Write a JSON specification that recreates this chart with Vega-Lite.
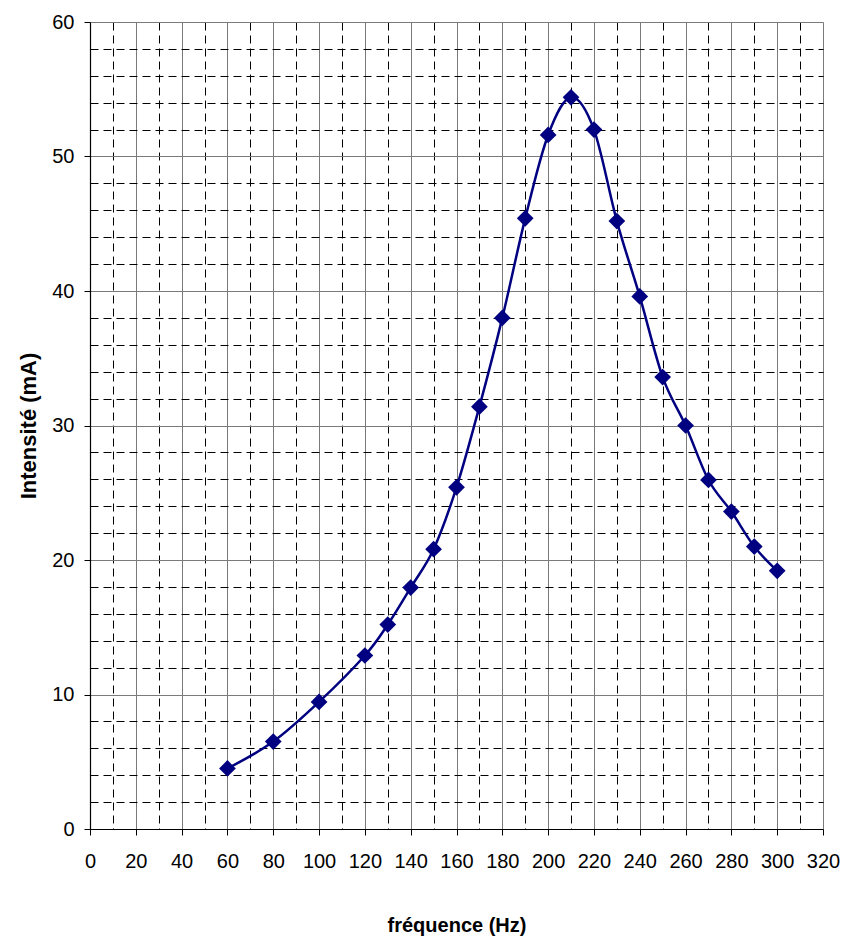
{
  "$schema": "https://vega.github.io/schema/vega-lite/v6.json",
  "width": 733,
  "height": 807,
  "autosize": {"type": "none"},
  "padding": {"left": 90, "top": 22, "right": 35, "bottom": 110},
  "background": "white",
  "config": {
    "view": {"stroke": null},
    "axis": {"labelFont": "Liberation Sans", "titleFont": "Liberation Sans", "labelColor": "#000000", "titleColor": "#000000"}
  },
  "data": {
    "values": [
      {"f": 60, "i": 4.5},
      {"f": 80, "i": 6.5},
      {"f": 100, "i": 9.45},
      {"f": 120, "i": 12.9},
      {"f": 130, "i": 15.2},
      {"f": 140, "i": 17.95},
      {"f": 150, "i": 20.8},
      {"f": 160, "i": 25.4},
      {"f": 170, "i": 31.4},
      {"f": 180, "i": 38.0},
      {"f": 190, "i": 45.4},
      {"f": 200, "i": 51.6},
      {"f": 210, "i": 54.4},
      {"f": 220, "i": 52.0},
      {"f": 230, "i": 45.2},
      {"f": 240, "i": 39.6},
      {"f": 250, "i": 33.6},
      {"f": 260, "i": 30.0},
      {"f": 270, "i": 25.95},
      {"f": 280, "i": 23.6},
      {"f": 290, "i": 21.0},
      {"f": 300, "i": 19.2}
    ]
  },
  "encoding": {
    "x": {
      "field": "f",
      "type": "quantitative",
      "scale": {"domain": [0, 320], "nice": false, "zero": false},
      "axis": {
        "title": "fréquence (Hz)",
        "titleFontSize": 20,
        "titleFontWeight": "bold",
        "titlePadding": 44,
        "values": [0,10,20,30,40,50,60,70,80,90,100,110,120,130,140,150,160,170,180,190,200,210,220,230,240,250,260,270,280,290,300,310,320],
        "labelExpr": "datum.value % 20 === 0 ? datum.label : ''",
        "labelFontSize": 20,
        "labelPadding": 16,
        "labelFlush": false,
        "labelOverlap": false,
        "domainColor": "#000000",
        "domainWidth": 1.2,
        "tickColor": "#000000",
        "tickSize": 6,
        "tickOpacity": {"condition": {"test": "datum.value % 20 === 0", "value": 1}, "value": 0},
        "grid": true,
        "gridColor": {"condition": {"test": "datum.value % 20 === 0", "value": "#7a7a7a"}, "value": "#000000"},
        "gridDash": {"condition": {"test": "datum.value % 20 === 0", "value": []}, "value": [8, 5]},
        "gridWidth": 1,
        "gridOpacity": 1
      }
    },
    "y": {
      "field": "i",
      "type": "quantitative",
      "scale": {"domain": [0, 60], "nice": false},
      "axis": {
        "title": "Intensité (mA)",
        "titleFontSize": 22,
        "titleFontWeight": "bold",
        "titlePadding": 11,
        "values": [0,2,4,6,8,10,12,14,16,18,20,22,24,26,28,30,32,34,36,38,40,42,44,46,48,50,52,54,56,58,60],
        "labelExpr": "datum.value % 10 === 0 ? datum.label : ''",
        "labelFontSize": 20,
        "labelPadding": 10,
        "labelFlush": false,
        "labelOverlap": false,
        "domainColor": "#000000",
        "domainWidth": 1.2,
        "tickColor": "#000000",
        "tickSize": 6,
        "tickOpacity": {"condition": {"test": "datum.value % 10 === 0", "value": 1}, "value": 0},
        "grid": true,
        "gridColor": {"condition": {"test": "datum.value % 10 === 0", "value": "#7a7a7a"}, "value": "#000000"},
        "gridDash": {"condition": {"test": "datum.value % 10 === 0", "value": []}, "value": [8, 5]},
        "gridWidth": 1,
        "gridOpacity": 1
      }
    }
  },
  "layer": [
    {
      "mark": {"type": "line", "interpolate": "cardinal", "color": "#000080", "strokeWidth": 2.5}
    },
    {
      "mark": {"type": "point", "shape": "diamond", "filled": true, "color": "#000080", "size": 280, "opacity": 1}
    }
  ]
}
